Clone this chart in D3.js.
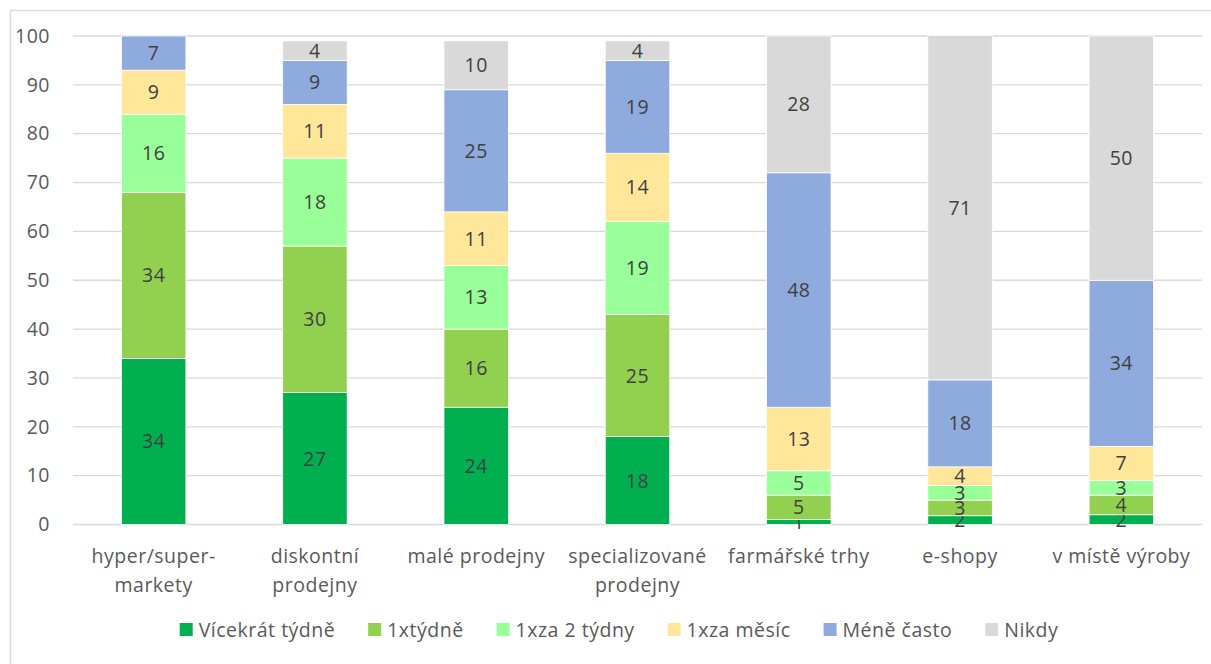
<!DOCTYPE html>
<html>
<head>
<meta charset="utf-8">
<script src="https://d3js.org/d3.v7.min.js"></script>
<style>
  body { margin: 0; background: #fff; }
  text { font-family: "Open Sans", "Lato", sans-serif; letter-spacing: 0.5px; }
</style>
</head>
<body>
<div id="chart"></div>
<script>

// categories and series values (percent)
var categories = ["hyper/super-|markety", "diskontní|prodejny", "malé prodejny",
                  "specializované|prodejny", "farmářské trhy", "e-shopy", "v místě výroby"];
var seriesNames = ["Vícekrát týdně", "1xtýdně", "1xza 2 týdny", "1xza měsíc", "Méně často", "Nikdy"];
var seriesColors = ["#00B050", "#92D050", "#99FF99", "#FFE699", "#8FAADC", "#D9D9D9"];

var vicekrat   = [34, 27, 24, 18, 1, 1.8, 2];
var tydne      = [34, 30, 16, 25, 5, 3.2, 4];
var dvaTydny   = [16, 18, 13, 19, 5, 3.0, 3];
var mesic      = [9, 11, 11, 14, 13, 3.8, 7];
var meneCasto  = [7, 9, 25, 19, 48, 17.8, 34];
var nikdy      = [0, 4, 10, 4, 28, 70.5, 50];

var yTicks = [0, 10, 20, 30, 40, 50, 60, 70, 80, 90, 100];

var W = 1211, H = 664;
var margin = {top: 36, right: 9, bottom: 664 - 524.5, left: 73};
var width = W - margin.left - margin.right,
    height = H - margin.top - margin.bottom;
var fs = "19.5px";

var svg = d3.select("#chart").append("svg")
    .attr("width", W).attr("height", H);

// outer chart border
svg.append("rect")
    .attr("x", 10.5).attr("y", 10.5)
    .attr("width", W + 20).attr("height", H + 20)
    .attr("fill", "none").attr("stroke", "#D9D9D9").attr("stroke-width", 1.5);

var g = svg.append("g")
    .attr("transform", "translate(" + margin.left + "," + margin.top + ")");

var x = d3.scaleBand().domain(categories).range([0, width]).paddingInner(0.6).paddingOuter(0.3);
var y = d3.scaleLinear().domain([0, 100]).range([height, 0]);

// gridlines
g.append("g").selectAll("line").data(yTicks).enter().append("line")
    .attr("x1", 0).attr("x2", width)
    .attr("y1", function(d) { return y(d); }).attr("y2", function(d) { return y(d); })
    .attr("stroke", "#D9D9D9").attr("stroke-width", 1.3);

// y axis labels
var yAxis = g.append("g").call(d3.axisLeft(y).tickValues(yTicks).tickSize(0).tickPadding(23));
yAxis.select(".domain").remove();
yAxis.selectAll("text")
    .style("font-family", "'Open Sans', Lato, sans-serif")
    .style("font-size", fs).attr("fill", "#595959");

// stacked data
var seriesArrays = [vicekrat, tydne, dvaTydny, mesic, meneCasto, nikdy];
var table = categories.map(function(c, i) {
  var row = {cat: c};
  seriesNames.forEach(function(s, j) { row[s] = seriesArrays[j][i]; });
  return row;
});
var stacked = d3.stack().keys(seriesNames)(table);

var layers = g.append("g").selectAll("g.layer").data(stacked).enter().append("g")
    .attr("fill", function(d, i) { return seriesColors[i]; });

layers.selectAll("rect").data(function(d) { return d; }).enter().append("rect")
    .filter(function(d) { return d[1] - d[0] > 0; })
    .attr("x", function(d) { return x(d.data.cat); })
    .attr("width", x.bandwidth())
    .attr("y", function(d) { return y(d[1]); })
    .attr("height", function(d) { return y(d[0]) - y(d[1]); })
    .attr("stroke", "#fff").attr("stroke-width", 0.8);

// data labels
layers.selectAll("text").data(function(d) { return d; }).enter().append("text")
    .filter(function(d) { return d[1] - d[0] > 0; })
    .attr("x", function(d) { return x(d.data.cat) + x.bandwidth() / 2; })
    .attr("y", function(d) { return y((d[0] + d[1]) / 2); })
    .attr("dy", "0.36em")
    .attr("text-anchor", "middle")
    .attr("fill", "#404040")
    .style("font-size", fs)
    .text(function(d) { return Math.round(d[1] - d[0]); });

// category labels
var catLabels = g.append("g").selectAll("text").data(categories).enter().append("text")
    .attr("x", function(d) { return x(d) + x.bandwidth() / 2; })
    .attr("y", height + 38.5)
    .attr("text-anchor", "middle")
    .attr("fill", "#595959")
    .style("font-size", fs);
catLabels.each(function(d) {
  var parts = d.split("|");
  var t = d3.select(this);
  parts.forEach(function(p, i) {
    t.append("tspan").attr("x", x(d) + x.bandwidth() / 2).attr("dy", i === 0 ? 0 : 28.5).text(p);
  });
});

// legend
var legend = svg.append("g").attr("transform", "translate(0,630)");
var items = legend.selectAll("g").data(seriesNames).enter().append("g");
items.append("rect")
    .attr("width", 13).attr("height", 13).attr("y", -7)
    .attr("fill", function(d, i) { return seriesColors[i]; });
items.append("text")
    .attr("x", 19).attr("dy", "0.36em")
    .attr("fill", "#595959")
    .style("font-size", fs)
    .text(function(d) { return d; });
var widths = [];
items.each(function() { widths.push(this.getBBox().width); });
var gap = 33;
var total = d3.sum(widths) + gap * (widths.length - 1);
var cx = 619 - total / 2;
items.attr("transform", function(d, i) {
  var pos = cx;
  cx += widths[i] + gap;
  return "translate(" + pos + ",0)";
});
</script>
</body>
</html>
